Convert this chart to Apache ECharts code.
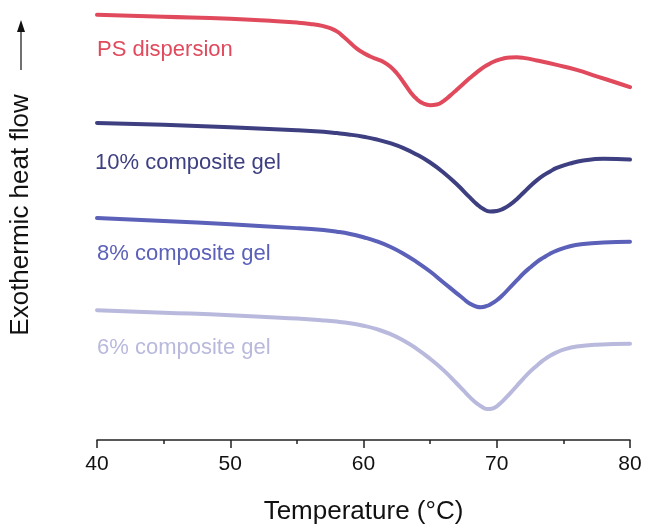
<!DOCTYPE html>
<html>
<head>
<meta charset="utf-8">
<script src="https://cdn.jsdelivr.net/npm/echarts@6/dist/echarts.min.js"></script>
<style>
  html, body { margin: 0; padding: 0; background: #fff; }
  #chart { width: 646px; height: 530px; }
</style>
</head>
<body>
<div id="chart"></div>
<script>
// DSC traces, heat flow in arbitrary offset units (exothermic up)
var psTemp = [40, 45, 50, 53, 55, 56, 57, 57.5, 58, 58.5, 59, 59.5, 60, 60.5, 61, 61.5, 62, 62.5, 63, 63.5, 64, 64.5, 65, 65.5, 66, 66.5, 67, 67.5, 68, 68.5, 69, 69.5, 70, 70.5, 71, 71.5, 72, 73, 74.5, 76, 77.5, 79, 80];
var psFlow = [429, 427, 425, 423, 421.2, 419.8, 417.6, 415.6, 412.3, 407, 400.8, 395, 390.5, 387, 384.3, 381.5, 377, 370, 361, 351.5, 344, 339.5, 337.8, 338.5, 342, 347.5, 353.5, 359.5, 365.5, 371, 376, 380, 383, 385, 386, 386.2, 385.6, 383, 378.5, 373.5, 367, 360.5, 356];

var gel10Temp = [40, 45, 50, 55, 57, 58, 59, 60, 61, 62, 63, 64, 65, 66, 67, 68, 68.5, 69, 69.5, 70, 70.5, 71, 71.5, 72, 72.5, 73, 73.5, 74, 74.5, 75.5, 76.5, 78, 80];
var gel10Flow = [320, 318, 315.5, 312.6, 311, 309.7, 308.1, 306, 303.3, 299.5, 294.5, 288, 280, 270, 258, 244.5, 238, 233, 230.5, 231, 233.5, 237.5, 243, 249.5, 256, 262, 267, 271, 274.5, 279, 282, 283.7, 283];

var gel8Temp = [40, 45, 50, 55, 57, 58, 59, 60, 61, 62, 63, 64, 65, 66, 67, 67.5, 68, 68.5, 68.8, 69.2, 69.6, 70, 70.5, 71, 71.5, 72, 72.5, 73, 73.5, 74, 74.5, 75.5, 76.5, 78, 80];
var gel8Flow = [224, 221, 217.6, 213.8, 211.8, 210.2, 207.9, 204.6, 200.5, 195, 188, 179.5, 170, 159, 148, 142.5, 137.5, 134.5, 134, 135, 137.5, 141, 147, 154, 161, 168, 174, 179.5, 184, 188, 191, 195.5, 197.8, 199.3, 200];

var gel6Temp = [40, 45, 50, 55, 57, 58, 59, 60, 61, 62, 63, 64, 65, 66, 67, 67.5, 68, 68.5, 69, 69.3, 69.6, 70, 70.5, 71, 71.5, 72, 72.5, 73, 73.5, 74, 74.5, 75, 76, 77.5, 80];
var gel6Flow = [131, 128.5, 126, 122.5, 120.7, 119.5, 117.8, 115.3, 111.8, 107, 100.5, 92, 82, 70.5, 57, 50, 43, 37, 32.5, 31.2, 31.5, 34, 40, 47, 54.5, 62, 69, 75, 80.5, 85, 88.5, 91.2, 94.3, 96.2, 97];

var seriesNames = ['PS dispersion', '10% composite gel', '8% composite gel', '6% composite gel'];
var seriesColors = ['#e04a5c', '#3d3f80', '#5b60b9', '#b9b9dd'];
var labelPos = [[40, 394], [39.85, 280], [40, 188], [40, 93]];

function pairs(t, v) {
  var out = [];
  for (var i = 0; i < t.length; i++) out.push([t[i], v[i]]);
  return out;
}

var allData = [pairs(psTemp, psFlow), pairs(gel10Temp, gel10Flow), pairs(gel8Temp, gel8Flow), pairs(gel6Temp, gel6Flow)];
var font = '"Liberation Sans", Arial, sans-serif';

var chart = echarts.init(document.getElementById('chart'));
chart.setOption({
  animation: false,
  grid: { left: 97, right: 16, top: 0, bottom: 86 },
  xAxis: {
    type: 'value', min: 40, max: 80, interval: 10,
    axisLine: { lineStyle: { color: '#222', width: 1.5 } },
    axisTick: { length: 8, lineStyle: { color: '#222', width: 1.5 } },
    minorTick: { show: true, splitNumber: 2, length: 4, lineStyle: { color: '#222', width: 1.5 } },
    splitLine: { show: false },
    axisLabel: { color: '#111', fontSize: 21, fontFamily: font, margin: 14 },
    name: 'Temperature (°C)', nameLocation: 'middle', nameGap: 59,
    nameTextStyle: { color: '#111', fontSize: 26, fontFamily: font }
  },
  yAxis: { type: 'value', min: 0, max: 444, show: false },
  series: allData.map(function (d, i) {
    return {
      name: seriesNames[i], type: 'line', data: d, smooth: 0.5,
      symbol: 'none', lineStyle: { color: seriesColors[i], width: 4, cap: 'round', join: 'round' }
    };
  })
});

var graphics = labelPos.map(function (p, i) {
  var px = chart.convertToPixel({ gridIndex: 0 }, p);
  return {
    type: 'text', x: px[0], y: px[1],
    style: { text: seriesNames[i], fill: seriesColors[i], font: '22px ' + font, textAlign: 'left', textVerticalAlign: 'middle' }
  };
});
graphics.push({
  type: 'text', x: 21, y: 215, rotation: Math.PI / 2,
  style: { text: 'Exothermic heat flow', fill: '#111', font: '26px ' + font, textAlign: 'center', textVerticalAlign: 'middle' }
});
graphics.push({ type: 'line', shape: { x1: 21, y1: 30, x2: 21, y2: 70 }, style: { stroke: '#111', lineWidth: 1.2 } });
graphics.push({ type: 'polygon', shape: { points: [[21, 20], [17, 32], [25, 32]] }, style: { fill: '#111' } });
chart.setOption({ graphic: graphics });
</script>
</body>
</html>
